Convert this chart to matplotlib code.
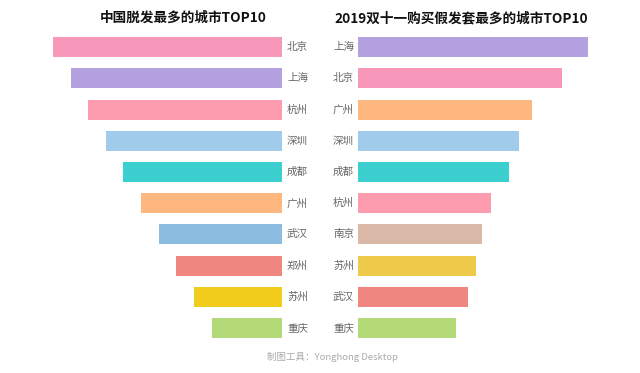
import matplotlib.pyplot as plt

plt.rcParams['font.family'] = ['Noto Sans CJK SC', 'DejaVu Sans']

# left panel: cities with most hair loss (relative index)
left_cities = ['北京', '上海', '杭州', '深圳', '成都', '广州', '武汉', '郑州', '苏州', '重庆']
left_values = [13, 12, 11, 10, 9, 8, 7, 6, 5, 4]
left_colors = ['#F797B9', '#B4A1DF', '#FD9CAF', '#A0CBEA', '#3CCFD0',
               '#FEB77E', '#8CBCE0', '#EF867F', '#F3CD1C', '#B3DA77']

# right panel: cities buying most wigs on Double 11 2019 (relative index)
right_cities = ['上海', '北京', '广州', '深圳', '成都', '杭州', '南京', '苏州', '武汉', '重庆']
right_values = [13.05, 11.6, 9.9, 9.15, 8.6, 7.55, 7.05, 6.7, 6.25, 5.55]
right_colors = ['#B4A1DF', '#F797B9', '#FEB77E', '#A0CBEA', '#3CCFD0',
                '#FD9CAF', '#D9B8A8', '#EDCA4A', '#EF867F', '#B3DA77']

W, H = 640, 373
fig = plt.figure(figsize=(6.4, 3.73), dpi=100)

px = 229 / 13.0  # pixels per unit
bottom = 1 - 343.6 / H
height = 312 / H

axl = fig.add_axes([40 / W, bottom, 242 / W, height])
axr = fig.add_axes([358 / W, bottom, 242 / W, height])

y = list(range(len(left_cities)))

axl.barh(y, left_values, height=0.64, color=left_colors)
axl.set_xlim(242 / px, 0)
axl.set_ylim(len(y) - 0.5, -0.5)
for i, c in enumerate(left_cities):
    axl.text(-5 / px, i, c, ha='left', va='center', fontsize=7.6, color='#666666')

axr.barh(y, right_values, height=0.64, color=right_colors)
axr.set_xlim(0, 242 / px)
axr.set_ylim(len(y) - 0.5, -0.5)
for i, c in enumerate(right_cities):
    axr.text(-4 / px, i, c, ha='right', va='center', fontsize=7.6, color='#666666')

for ax in (axl, axr):
    ax.axis('off')

fig.text(183 / W, 1 - 18 / H, '中国脱发最多的城市TOP10', ha='center', va='center',
         fontsize=9.8, fontweight='bold', color='#111111')
fig.text(461 / W, 1 - 18 / H, '2019双十一购买假发套最多的城市TOP10', ha='center', va='center',
         fontsize=9.8, fontweight='bold', color='#111111')
fig.text(332 / W, 1 - 357 / H, '制图工具：Yonghong Desktop', ha='center', va='center',
         fontsize=6.8, color='#AAAAAA')

fig.savefig('out.png', dpi=100, facecolor='white')
